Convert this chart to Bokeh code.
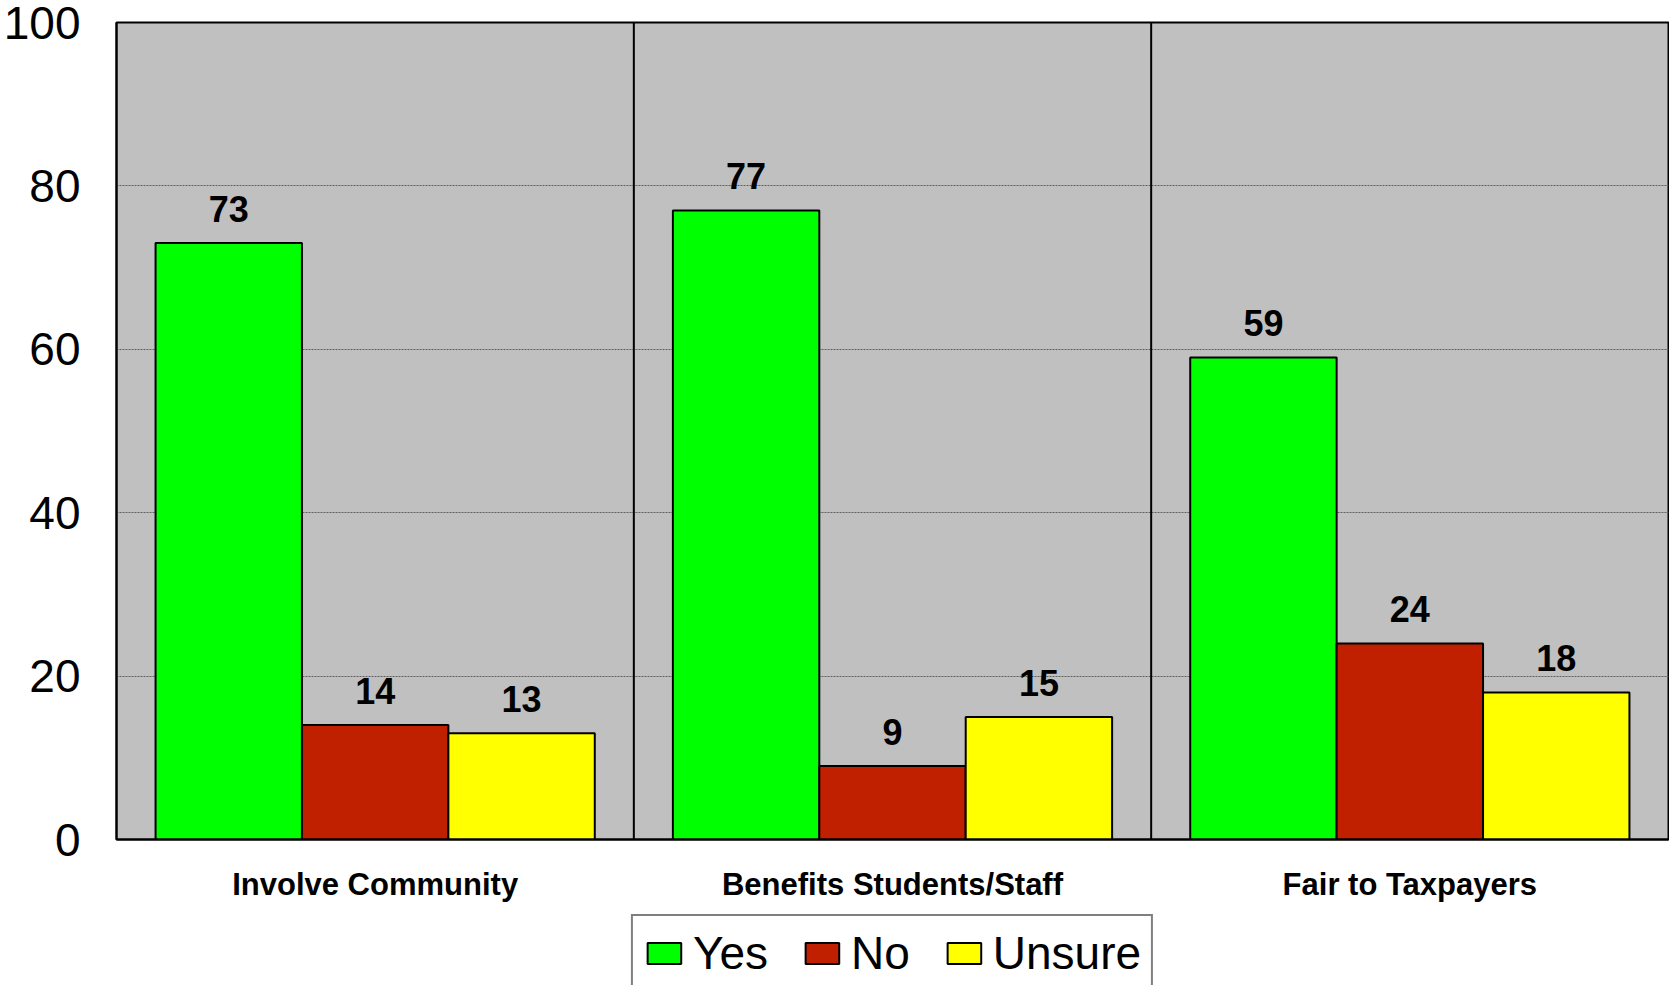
from bokeh.plotting import figure
from bokeh.layouts import column
from bokeh.models import (ColumnDataSource, FactorRange, Range1d, FixedTicker,
                          Legend, LegendItem, Span)
from bokeh.transform import dodge
from bokeh.core.properties import value
from bokeh.embed import file_html
from bokeh.resources import INLINE

categories = ["Involve Community", "Benefits Students/Staff", "Fair to Taxpayers"]
series = ["Yes", "No", "Unsure"]
yes = [73, 77, 59]
no = [14, 9, 24]
unsure = [13, 15, 18]
colors = ["#00FF00", "#C02000", "#FFFF00"]
y_ticks = [0, 20, 40, 60, 80, 100]

FONT = "Liberation Sans"

src = ColumnDataSource(data=dict(cat=categories, Yes=yes, No=no, Unsure=unsure,
                                 Yes_l=[str(v) for v in yes],
                                 No_l=[str(v) for v in no],
                                 Unsure_l=[str(v) for v in unsure]))

p = figure(x_range=FactorRange(factors=categories, range_padding=0),
           y_range=Range1d(0, 100),
           width=1669, height=905, output_backend="svg", toolbar_location=None,
           min_border_left=116, min_border_right=1, min_border_top=22,
           min_border_bottom=66)

p.background_fill_color = "#C0C0C0"
p.border_fill_color = "white"
p.outline_line_color = "black"
p.outline_line_width = 2

bar_w = 0.283
offsets = [-bar_w, 0.0, bar_w]
for s, c, off in zip(series, colors, offsets):
    p.vbar(x=dodge("cat", off, range=p.x_range), top=s, width=bar_w,
           source=src, fill_color=c, line_color="black", line_width=2)
    p.text(x=dodge("cat", off, range=p.x_range), y=s, text=s + "_l", source=src,
           text_align="center", text_baseline="alphabetic", y_offset=-34,
           text_font=value(FONT), text_font_style="bold",
           text_font_size="36px", text_color="black")

for i in range(1, len(categories)):
    p.add_layout(Span(location=i, dimension="height", line_color="black",
                      line_width=2))

# grid
p.xgrid.grid_line_color = None
p.ygrid.ticker = FixedTicker(ticks=y_ticks)
p.ygrid.grid_line_color = "#606060"
p.ygrid.grid_line_dash = "2 1"
p.ygrid.grid_line_width = 1

# y axis
p.yaxis.ticker = FixedTicker(ticks=y_ticks)
p.yaxis.axis_line_color = "black"
p.yaxis.axis_line_width = 2
p.yaxis.major_tick_out = 0
p.yaxis.major_tick_in = 0
p.yaxis.minor_tick_out = 0
p.yaxis.minor_tick_in = 0
p.yaxis.major_label_standoff = 36
p.yaxis.major_label_text_font = FONT
p.yaxis.major_label_text_font_size = "46px"
p.yaxis.major_label_text_color = "black"

# x axis
p.xaxis.axis_line_color = "black"
p.xaxis.axis_line_width = 2
p.xaxis.major_tick_out = 0
p.xaxis.major_tick_in = 0
p.xaxis.major_label_standoff = 27
p.xaxis.major_label_text_font = FONT
p.xaxis.major_label_text_font_style = "bold"
p.xaxis.major_label_text_font_size = "31px"
p.xaxis.major_label_text_color = "black"

# legend strip (separate small figure so the legend sits below the axis labels);
# its renderers share the data but are hidden, only their legend swatches show
lg = figure(x_range=FactorRange(factors=categories, range_padding=0),
            y_range=Range1d(0, 100),
            width=1669, height=80, output_backend="svg", toolbar_location=None,
            x_axis_location=None, y_axis_location=None,
            min_border_left=116, min_border_right=1, min_border_top=0,
            min_border_bottom=0)
lg.outline_line_color = None
lg.xgrid.grid_line_color = None
lg.ygrid.grid_line_color = None
lg.background_fill_color = "white"
items = []
for s, c in zip(series, colors):
    r = lg.vbar(x="cat", top=s, width=bar_w, source=src, fill_color=c,
                line_color="black", line_width=2, visible=False)
    items.append(LegendItem(label=s, renderers=[r]))

legend = Legend(items=items, orientation="horizontal", location="top_center",
                glyph_width=42, glyph_height=26, label_standoff=8, spacing=33,
                padding=10, margin=9, click_policy="none",
                label_text_font=FONT, label_text_font_size="46px",
                label_text_color="black",
                border_line_color="black", border_line_width=2,
                background_fill_color="white", background_fill_alpha=1.0)
lg.add_layout(legend, "center")

layout = column(p, lg, spacing=0)

open("out.html", "w").write(file_html(layout, INLINE))
